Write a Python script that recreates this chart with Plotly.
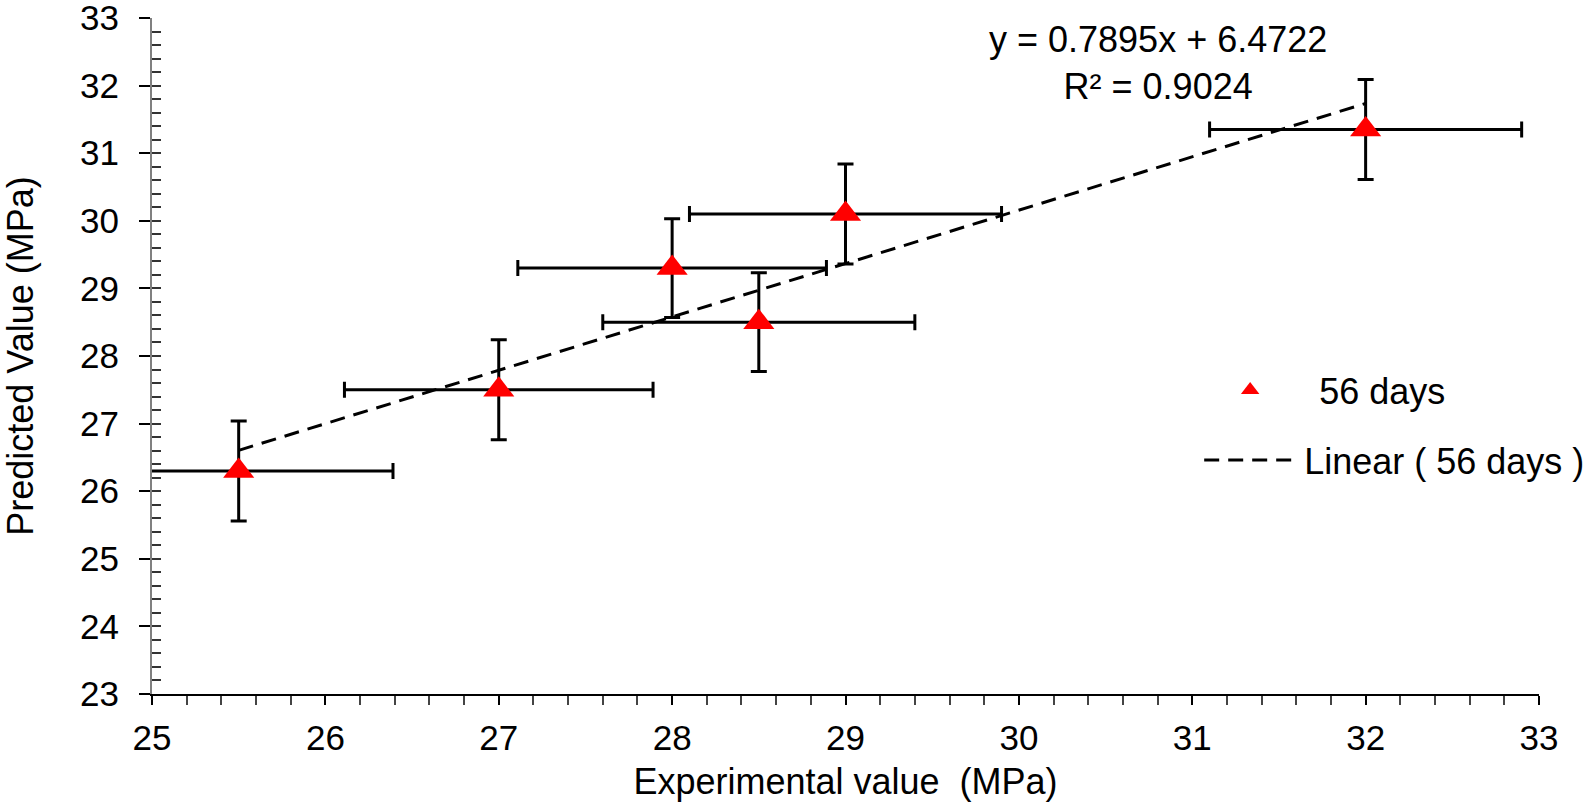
import plotly.graph_objects as go

# ---- data ----
experimental = [25.5, 27.0, 28.0, 28.5, 29.0, 32.0]
predicted = [26.3, 27.5, 29.3, 28.5, 30.1, 31.35]
x_error = [0.89, 0.89, 0.89, 0.9, 0.9, 0.9]
y_error = [0.74, 0.74, 0.73, 0.73, 0.74, 0.74]
fit_slope = 0.7895
fit_intercept = 6.4722
fit_r2 = 0.9024
series_name = "56 days"
trend_name = "Linear ( 56 days )"
x_ticks = [25, 26, 27, 28, 29, 30, 31, 32, 33]
y_ticks = [23, 24, 25, 26, 27, 28, 29, 30, 31, 32, 33]

FONT = "Liberation Sans, Arial, sans-serif"

trend_x = [min(experimental), max(experimental)]
trend_y = [fit_slope * v + fit_intercept for v in trend_x]

fig = go.Figure()

fig.add_trace(go.Scatter(
    x=trend_x, y=trend_y, mode="lines", name=trend_name,
    line=dict(color="black", width=3, dash="15px,9px"),
    legend="legend2",
))

fig.add_trace(go.Scatter(
    x=experimental, y=predicted, mode="markers", name=series_name,
    marker=dict(symbol="triangle-up", size=27, color="#ff0000", line=dict(width=0)),
    error_x=dict(type="data", array=x_error, color="black", thickness=3, width=8),
    error_y=dict(type="data", array=y_error, color="black", thickness=3, width=8),
    legend="legend",
))

# empty trace on overlay axis carrying the inside ticks of the y axis
fig.add_trace(go.Scatter(x=[], y=[], yaxis="y2", showlegend=False, hoverinfo="skip"))

fig.add_annotation(
    x=30.8, y=32.34, xref="x", yref="y",
    text=f"y = {fit_slope}x + {fit_intercept}<br>R² = {fit_r2}",
    showarrow=False, font=dict(family=FONT, size=36, color="black"),
    align="center", xanchor="center", yanchor="middle",
)

fig.update_layout(
    width=1594, height=812, autosize=False,
    margin=dict(l=152, r=55, t=18, b=118, autoexpand=False),
    paper_bgcolor="white", plot_bgcolor="white",
    font=dict(family=FONT, size=36, color="black"),
    xaxis=dict(
        range=[25, 33], tickvals=x_ticks, ticks="outside", ticklen=9, tickwidth=1.5,
        tickcolor="black",
        minor=dict(ticks="outside", ticklen=9, dtick=0.2, tick0=25, tickwidth=1.5, tickcolor="#444"),
        showline=True, linecolor="black", linewidth=2, mirror=False,
        showgrid=False, zeroline=False,
        tickfont=dict(family=FONT, size=35, color="black"),
        ticklabelstandoff=3, ticklabeloverflow="allow",
        title=dict(text="Experimental value \u00a0(MPa)", font=dict(family=FONT, size=36), standoff=13),
        automargin=False,
    ),
    yaxis=dict(
        range=[23, 33], tickvals=y_ticks, ticks="outside", ticklen=11, tickwidth=1.5,
        tickcolor="black",
        showline=True, linecolor="#808080", linewidth=2,
        showgrid=False, zeroline=False,
        tickfont=dict(family=FONT, size=35, color="black"),
        ticklabelstandoff=13, ticklabeloverflow="allow",
        title=dict(text="Predicted Value (MPa)", font=dict(family=FONT, size=36), standoff=56),
        automargin=False,
    ),
    yaxis2=dict(
        range=[23, 33], overlaying="y", side="left", dtick=0.2, tick0=23,
        ticks="inside", ticklen=9, tickwidth=1.5, tickcolor="#333",
        showticklabels=False, showline=False, showgrid=False, zeroline=False,
    ),
    legend=dict(
        x=0.742, y=0.4497, xanchor="left", yanchor="middle",
        bgcolor="rgba(0,0,0,0)", itemwidth=128,
        font=dict(family=FONT, size=36, color="black"),
    ),
    legend2=dict(
        x=0.755, y=0.346, xanchor="left", yanchor="middle",
        bgcolor="rgba(0,0,0,0)", itemwidth=95,
        font=dict(family=FONT, size=36, color="black"),
    ),
    showlegend=True,
)

fig.write_html(
    "out.html",
    config={"displayModeBar": False},
    post_script="document.body.style.margin='0';document.body.style.overflow='hidden';",
)
